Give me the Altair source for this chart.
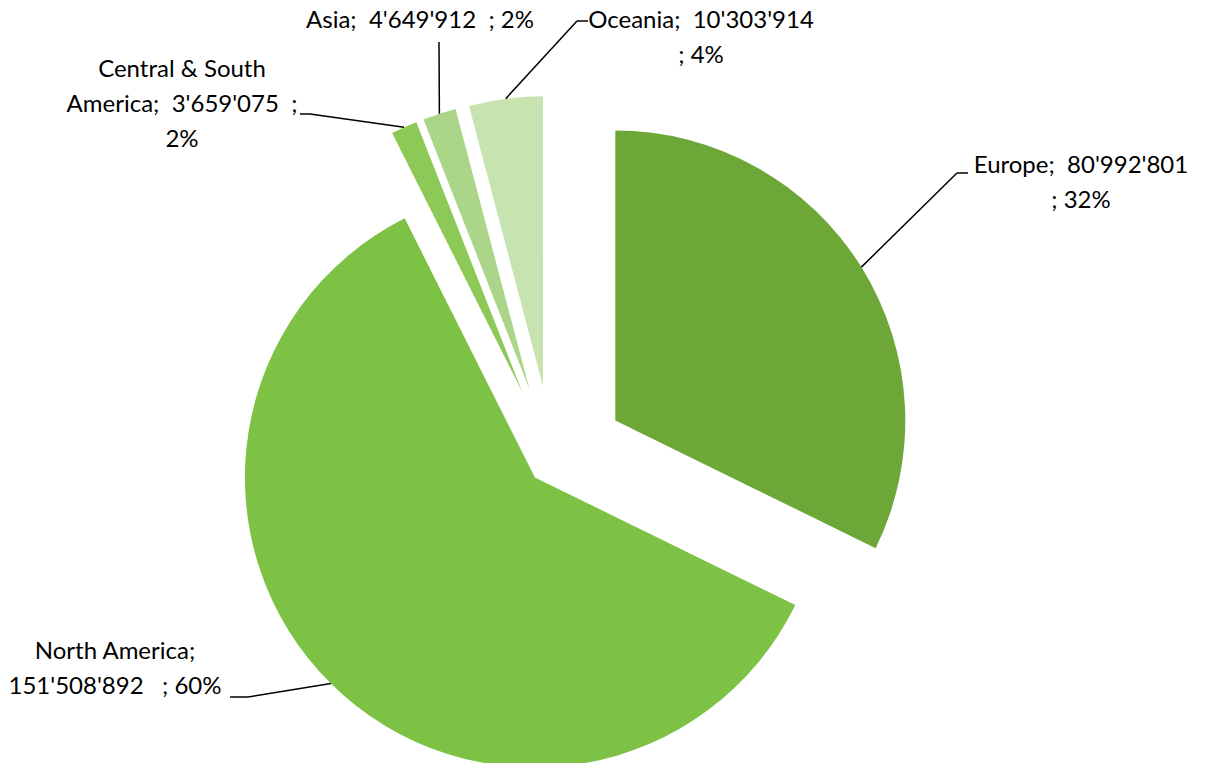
import altair as alt
import pandas as pd

# ---- data ----
regions = ["Europe", "North America", "Central & South America", "Asia", "Oceania"]
values = [80992801, 151508892, 3659075, 4649912, 10303914]
percents = [32, 60, 2, 2, 4]

# ---- styles / layout ----
colors = ["#6CA738", "#7DC245", "#8DC957", "#ABD68A", "#C7E4B0"]
explode = [74, 25, 74, 74, 74]
NB = "\u00a0"
label_templates = [
    "{n};" + NB + " {v}" + NB + "\n; {p}%",
    "{n};\n{v}" + NB + NB + " ; {p}%",
    "{n};" + NB + " {v}" + NB + " ;\n{p}%",
    "{n};" + NB + " {v}" + NB + " ; {p}%",
    "{n};" + NB + " {v}" + NB + "\n; {p}%",
]
name_wrap = {"Central & South America": "Central & South\nAmerica"}
label_x = [1073, 107, 174, 412, 693]
label_y = [158, 644, 62, 13, 13]
elbow_x = [949, 240, 302, 431, 569]
elbow_y = [165, 689, 106, 34, 13]
end_x = [960, 222, 292, 431, 580]
end_y = [165, 689, 106, 34, 13]

CX, CY, R = 544.5, 451.7, 290
W, H = 1194, 755

labels = []
for name, v, p, tpl in zip(regions, values, percents, label_templates):
    labels.append(
        tpl.format(
            n=name_wrap.get(name, name),
            v=f"{v:,}".replace(",", "'"),
            p=p,
        )
    )

df = pd.DataFrame(
    {
        "order": list(range(len(regions))),
        "region": regions,
        "value": values,
        "explode": explode,
        "label": labels,
        "tx": label_x,
        "ty": label_y,
        "ex": elbow_x,
        "ey": elbow_y,
        "nx": end_x,
        "ny": end_y,
    }
)

base = (
    alt.Chart(df)
    .transform_joinaggregate(total="sum(value)")
    .transform_window(cum="sum(value)", sort=[alt.SortField("order")], frame=[None, 0])
    .transform_calculate(
        t1="2*PI*datum.cum/datum.total",
        t0="2*PI*(datum.cum-datum.value)/datum.total",
    )
    .transform_calculate(mid="(datum.t0+datum.t1)/2")
    .transform_calculate(
        cx=f"{CX} + datum.explode*sin(datum.mid)",
        cy=f"{CY} - datum.explode*cos(datum.mid)",
    )
    .transform_calculate(
        lx=f"datum.cx + {R}*sin(datum.mid)",
        ly=f"datum.cy - {R}*cos(datum.mid)",
    )
)

arcs = base.mark_arc(radius=R).encode(
    x=alt.X("cx:Q", scale=None, axis=None),
    y=alt.Y("cy:Q", scale=None, axis=None),
    theta=alt.Theta("t0:Q", scale=None, stack=None),
    theta2="t1:Q",
    color=alt.Color("region:N", scale=alt.Scale(domain=regions, range=colors), legend=None),
)

seg1 = base.mark_rule(color="black", strokeWidth=1.5).encode(
    x=alt.X("lx:Q", scale=None, axis=None),
    y=alt.Y("ly:Q", scale=None, axis=None),
    x2="ex:Q",
    y2="ey:Q",
)
seg2 = base.mark_rule(color="black", strokeWidth=1.5).encode(
    x=alt.X("ex:Q", scale=None, axis=None),
    y=alt.Y("ey:Q", scale=None, axis=None),
    x2="nx:Q",
    y2="ny:Q",
)

text = base.mark_text(
    font="Lato", fontSize=24, lineBreak="\n", lineHeight=35,
    align="center", baseline="middle", color="black",
).encode(
    x=alt.X("tx:Q", scale=None, axis=None),
    y=alt.Y("ty:Q", scale=None, axis=None),
    text="label:N",
)

chart = (
    alt.layer(arcs, seg1, seg2, text)
    .properties(width=W, height=H, padding=0, autosize=alt.AutoSizeParams(type="none"))
    .configure_view(stroke=None)
)

chart.save("out.html", embed_options={"renderer": "svg", "actions": False})
